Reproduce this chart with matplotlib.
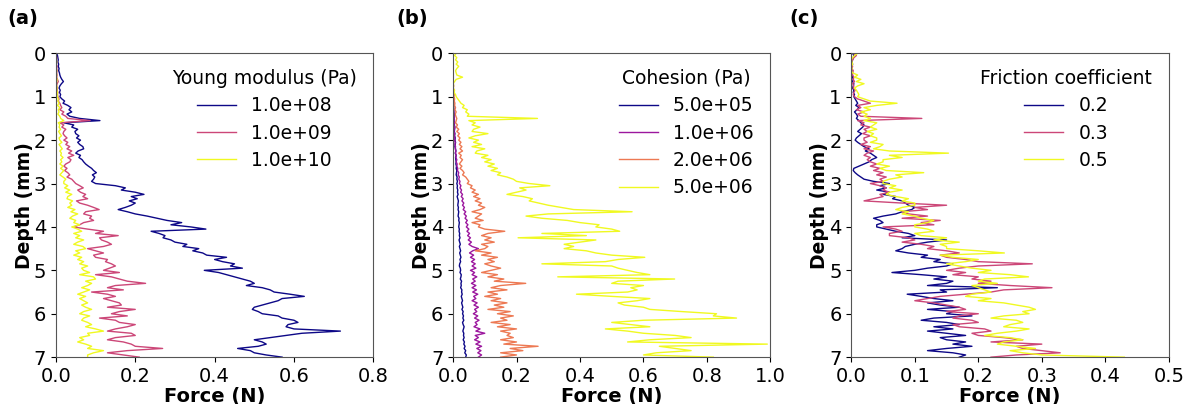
import numpy as np
import matplotlib
matplotlib.use("Agg")
import matplotlib.pyplot as plt

# depth grid (mm), 0.05 mm step
depth = np.linspace(0, 7, 141)

# (a) Young modulus
young_labels = ["1.0e+08", "1.0e+09", "1.0e+10"]
young_1e8 = [
    0.002, 0.004, 0.005, 0.006, 0.005, 0.007, 0.006, 0.008, 0.007, 0.009,
    0.010, 0.012, 0.015, 0.019, 0.014, 0.010, 0.008, 0.011, 0.009, 0.012,
    0.010, 0.015, 0.022, 0.018, 0.030, 0.038, 0.033, 0.040, 0.028, 0.035,
    0.060, 0.111, 0.020, 0.045, 0.040, 0.055, 0.048, 0.050, 0.058, 0.052,
    0.062, 0.055, 0.060, 0.068, 0.070, 0.056, 0.050, 0.062, 0.058, 0.066,
    0.070, 0.075, 0.082, 0.090, 0.095, 0.102, 0.092, 0.098, 0.095, 0.090,
    0.100, 0.150, 0.175, 0.165, 0.200, 0.222, 0.190, 0.205, 0.185, 0.200,
    0.190, 0.175, 0.157, 0.180, 0.200, 0.230, 0.255, 0.280, 0.317, 0.290,
    0.340, 0.378, 0.240, 0.260, 0.275, 0.270, 0.290, 0.300, 0.330, 0.320,
    0.360, 0.345, 0.370, 0.380, 0.430, 0.400, 0.420, 0.450, 0.440, 0.470,
    0.374, 0.410, 0.430, 0.450, 0.470, 0.490, 0.500, 0.480, 0.520, 0.540,
    0.550, 0.590, 0.626, 0.570, 0.560, 0.540, 0.520, 0.500, 0.495, 0.510,
    0.520, 0.560, 0.570, 0.600, 0.610, 0.585, 0.580, 0.600, 0.717, 0.620,
    0.580, 0.540, 0.500, 0.520, 0.530, 0.510, 0.458, 0.490, 0.500, 0.530,
    0.570,
]
young_1e9 = [
    0.000, 0.001, 0.002, 0.001, 0.002, 0.001, 0.003, 0.002, 0.003, 0.002,
    0.003, 0.002, 0.004, 0.006, 0.003, 0.002, 0.004, 0.003, 0.005, 0.004,
    0.005, 0.008, 0.006, 0.010, 0.012, 0.015, 0.010, 0.020, 0.015, 0.025,
    0.030, 0.086, 0.010, 0.020, 0.015, 0.025, 0.020, 0.018, 0.022, 0.028,
    0.020, 0.030, 0.025, 0.035, 0.028, 0.040, 0.032, 0.045, 0.030, 0.038,
    0.035, 0.025, 0.020, 0.028, 0.022, 0.030, 0.035, 0.028, 0.040, 0.045,
    0.050, 0.060, 0.069, 0.055, 0.062, 0.075, 0.068, 0.080, 0.052, 0.060,
    0.080, 0.095, 0.109, 0.075, 0.070, 0.090, 0.085, 0.095, 0.070, 0.060,
    0.044, 0.080, 0.120, 0.100, 0.157, 0.110, 0.115, 0.130, 0.140, 0.120,
    0.080, 0.100, 0.120, 0.095, 0.100, 0.130, 0.125, 0.140, 0.150, 0.135,
    0.120, 0.160, 0.100, 0.140, 0.160, 0.180, 0.226, 0.150, 0.130, 0.170,
    0.090, 0.130, 0.150, 0.120, 0.140, 0.160, 0.165, 0.130, 0.200, 0.160,
    0.140, 0.180, 0.110, 0.150, 0.160, 0.200, 0.180, 0.150, 0.130, 0.190,
    0.200, 0.150, 0.130, 0.170, 0.190, 0.200, 0.269, 0.180, 0.130, 0.170,
    0.210,
]
young_1e10 = [
    0.000, 0.001, 0.000, 0.001, 0.002, 0.001, 0.000, 0.001, 0.002, 0.001,
    0.002, 0.001, 0.003, 0.002, 0.001, 0.002, 0.003, 0.002, 0.004, 0.003,
    0.004, 0.006, 0.005, 0.008, 0.004, 0.010, 0.006, 0.008, 0.005, 0.010,
    0.012, 0.020, 0.006, 0.010, 0.008, 0.012, 0.007, 0.010, 0.014, 0.008,
    0.010, 0.015, 0.008, 0.012, 0.016, 0.010, 0.014, 0.012, 0.018, 0.012,
    0.015, 0.010, 0.018, 0.012, 0.020, 0.015, 0.010, 0.018, 0.025, 0.020,
    0.020, 0.030, 0.022, 0.035, 0.025, 0.040, 0.030, 0.028, 0.042, 0.035,
    0.040, 0.030, 0.048, 0.038, 0.055, 0.042, 0.035, 0.050, 0.045, 0.060,
    0.040, 0.055, 0.065, 0.045, 0.060, 0.050, 0.070, 0.055, 0.045, 0.068,
    0.075, 0.050, 0.060, 0.045, 0.065, 0.055, 0.070, 0.060, 0.080, 0.065,
    0.070, 0.085, 0.060, 0.095, 0.100, 0.075, 0.090, 0.080, 0.065, 0.085,
    0.070, 0.055, 0.075, 0.060, 0.070, 0.080, 0.065, 0.075, 0.090, 0.070,
    0.060, 0.085, 0.070, 0.065, 0.080, 0.090, 0.075, 0.100, 0.120, 0.080,
    0.085, 0.060, 0.070, 0.055, 0.075, 0.090, 0.080, 0.120, 0.095, 0.080,
    0.080,
]

# (b) Cohesion
cohesion_labels = ["5.0e+05", "1.0e+06", "2.0e+06", "5.0e+06"]
coh_5e5 = [
    0.000, 0.000, 0.000, 0.000, 0.000, 0.000, 0.000, 0.000, 0.000, 0.000,
    0.000, 0.000, 0.000, 0.000, 0.000, 0.000, 0.000, 0.000, 0.000, 0.000,
    0.001, 0.002, 0.001, 0.002, 0.003, 0.002, 0.003, 0.002, 0.004, 0.003,
    0.004, 0.003, 0.005, 0.004, 0.006, 0.005, 0.004, 0.006, 0.005, 0.007,
    0.006, 0.008, 0.007, 0.006, 0.008, 0.009, 0.007, 0.010, 0.008, 0.009,
    0.010, 0.009, 0.011, 0.010, 0.012, 0.011, 0.010, 0.013, 0.012, 0.014,
    0.012, 0.014, 0.013, 0.015, 0.014, 0.016, 0.013, 0.015, 0.017, 0.016,
    0.015, 0.017, 0.016, 0.018, 0.017, 0.016, 0.019, 0.018, 0.020, 0.019,
    0.018, 0.020, 0.019, 0.021, 0.020, 0.022, 0.019, 0.021, 0.023, 0.020,
    0.022, 0.024, 0.021, 0.023, 0.025, 0.022, 0.024, 0.021, 0.020, 0.023,
    0.024, 0.022, 0.026, 0.025, 0.023, 0.027, 0.025, 0.026, 0.024, 0.028,
    0.027, 0.029, 0.026, 0.028, 0.030, 0.027, 0.029, 0.031, 0.028, 0.032,
    0.030, 0.033, 0.031, 0.034, 0.030, 0.032, 0.035, 0.033, 0.031, 0.034,
    0.033, 0.035, 0.032, 0.036, 0.034, 0.038, 0.035, 0.040, 0.037, 0.042,
    0.040,
]
coh_1e6 = [
    0.000, 0.000, 0.000, 0.000, 0.000, 0.000, 0.000, 0.000, 0.000, 0.000,
    0.000, 0.000, 0.000, 0.000, 0.000, 0.000, 0.000, 0.000, 0.000, 0.000,
    0.000, 0.001, 0.002, 0.001, 0.002, 0.001, 0.002, 0.003, 0.002, 0.003,
    0.004, 0.003, 0.004, 0.003, 0.005, 0.004, 0.003, 0.005, 0.004, 0.006,
    0.005, 0.007, 0.006, 0.008, 0.007, 0.009, 0.008, 0.010, 0.009, 0.012,
    0.010, 0.013, 0.012, 0.015, 0.014, 0.018, 0.016, 0.020, 0.018, 0.022,
    0.020, 0.025, 0.022, 0.027, 0.024, 0.030, 0.026, 0.032, 0.028, 0.034,
    0.030, 0.036, 0.032, 0.040, 0.035, 0.042, 0.038, 0.045, 0.040, 0.047,
    0.042, 0.050, 0.044, 0.052, 0.046, 0.055, 0.048, 0.058, 0.050, 0.060,
    0.080, 0.062, 0.052, 0.065, 0.055, 0.068, 0.058, 0.070, 0.060, 0.072,
    0.055, 0.068, 0.060, 0.075, 0.062, 0.070, 0.058, 0.072, 0.060, 0.074,
    0.062, 0.078, 0.065, 0.072, 0.060, 0.076, 0.066, 0.080, 0.068, 0.075,
    0.064, 0.078, 0.068, 0.082, 0.070, 0.076, 0.066, 0.085, 0.072, 0.100,
    0.070, 0.080, 0.068, 0.085, 0.072, 0.090, 0.075, 0.088, 0.078, 0.090,
    0.080,
]
coh_2e6 = [
    0.000, 0.000, 0.000, 0.000, 0.000, 0.000, 0.000, 0.000, 0.000, 0.000,
    0.000, 0.000, 0.000, 0.000, 0.001, 0.002, 0.001, 0.003, 0.002, 0.004,
    0.003, 0.005, 0.004, 0.006, 0.005, 0.008, 0.006, 0.010, 0.007, 0.009,
    0.012, 0.010, 0.008, 0.014, 0.010, 0.018, 0.012, 0.020, 0.015, 0.022,
    0.018, 0.025, 0.020, 0.028, 0.022, 0.030, 0.018, 0.026, 0.022, 0.030,
    0.025, 0.020, 0.028, 0.022, 0.030, 0.035, 0.030, 0.040, 0.045, 0.050,
    0.045, 0.060, 0.055, 0.070, 0.060, 0.080, 0.065, 0.085, 0.070, 0.090,
    0.080, 0.100, 0.085, 0.060, 0.090, 0.080, 0.070, 0.095, 0.060, 0.085,
    0.080, 0.100, 0.163, 0.110, 0.090, 0.120, 0.100, 0.130, 0.090, 0.110,
    0.100, 0.070, 0.120, 0.090, 0.140, 0.110, 0.130, 0.100, 0.120, 0.150,
    0.120, 0.090, 0.140, 0.110, 0.160, 0.130, 0.229, 0.150, 0.120, 0.170,
    0.110, 0.140, 0.100, 0.150, 0.120, 0.170, 0.130, 0.160, 0.110, 0.180,
    0.140, 0.190, 0.150, 0.170, 0.120, 0.180, 0.140, 0.200, 0.150, 0.180,
    0.170, 0.190, 0.150, 0.200, 0.160, 0.268, 0.180, 0.220, 0.150, 0.200,
    0.150,
]
coh_5e6 = [
    0.010, 0.005, 0.012, 0.008, 0.015, 0.010, 0.018, 0.012, 0.008, 0.010,
    0.012, 0.030, 0.010, 0.005, 0.000, 0.002, 0.000, 0.005, 0.003, 0.008,
    0.010, 0.015, 0.020, 0.025, 0.035, 0.030, 0.045, 0.040, 0.050, 0.045,
    0.266, 0.050, 0.070, 0.060, 0.085, 0.065, 0.060, 0.110, 0.070, 0.050,
    0.080, 0.065, 0.090, 0.060, 0.100, 0.075, 0.070, 0.110, 0.090, 0.120,
    0.100, 0.130, 0.110, 0.140, 0.120, 0.150, 0.140, 0.170, 0.190, 0.200,
    0.240, 0.305, 0.210, 0.230, 0.200, 0.170, 0.220, 0.250, 0.240, 0.270,
    0.300, 0.340, 0.380, 0.564, 0.300, 0.230, 0.280, 0.360, 0.400, 0.460,
    0.450, 0.500, 0.525, 0.280, 0.420, 0.205, 0.450, 0.400, 0.350, 0.380,
    0.350, 0.420, 0.450, 0.500, 0.604, 0.520, 0.480, 0.280, 0.500, 0.520,
    0.550, 0.580, 0.620, 0.330, 0.698, 0.520, 0.500, 0.600, 0.560, 0.580,
    0.550, 0.389, 0.500, 0.620, 0.580, 0.520, 0.540, 0.600, 0.620, 0.720,
    0.830, 0.820, 0.893, 0.600, 0.500, 0.560, 0.620, 0.480, 0.550, 0.600,
    0.700, 0.750, 0.620, 0.550, 0.990, 0.650, 0.700, 0.750, 0.640, 0.600,
    0.820,
]

# (c) Friction coefficient
friction_labels = ["0.2", "0.3", "0.5"]
fric_02 = [
    0.002, 0.004, 0.003, 0.002, 0.001, 0.002, 0.001, 0.000, 0.001, 0.002,
    0.001, 0.002, 0.003, 0.002, 0.004, 0.003, 0.002, 0.004, 0.003, 0.005,
    0.004, 0.006, 0.008, 0.010, 0.007, 0.012, 0.009, 0.005, 0.008, 0.010,
    0.008, 0.012, 0.015, 0.020, 0.018, 0.014, 0.010, 0.016, 0.012, 0.008,
    0.006, 0.010, 0.015, 0.020, 0.028, 0.022, 0.030, 0.035, 0.040, 0.032,
    0.028, 0.020, 0.012, 0.004, 0.003, 0.006, 0.010, 0.015, 0.020, 0.035,
    0.060, 0.045, 0.055, 0.040, 0.060, 0.050, 0.070, 0.065, 0.080, 0.085,
    0.090, 0.100, 0.095, 0.080, 0.070, 0.050, 0.035, 0.045, 0.050, 0.040,
    0.040, 0.055, 0.070, 0.090, 0.100, 0.080, 0.150, 0.120, 0.100, 0.085,
    0.080, 0.070, 0.090, 0.120, 0.110, 0.140, 0.130, 0.160, 0.150, 0.120,
    0.100, 0.064, 0.110, 0.150, 0.130, 0.160, 0.150, 0.120, 0.230, 0.140,
    0.150, 0.088, 0.110, 0.130, 0.160, 0.120, 0.140, 0.170, 0.120, 0.160,
    0.150, 0.190, 0.130, 0.110, 0.150, 0.170, 0.130, 0.160, 0.120, 0.150,
    0.180, 0.140, 0.150, 0.180, 0.160, 0.190, 0.150, 0.120, 0.160, 0.180,
    0.170,
]
fric_03 = [
    0.003, 0.008, 0.004, 0.002, 0.000, 0.001, 0.002, 0.001, 0.003, 0.002,
    0.002, 0.004, 0.003, 0.005, 0.002, 0.004, 0.003, 0.006, 0.004, 0.003,
    0.005, 0.010, 0.020, 0.030, 0.010, 0.015, 0.008, 0.020, 0.010, 0.015,
    0.111, 0.010, 0.020, 0.015, 0.030, 0.020, 0.025, 0.018, 0.030, 0.020,
    0.020, 0.025, 0.015, 0.030, 0.020, 0.035, 0.025, 0.020, 0.030, 0.025,
    0.030, 0.040, 0.030, 0.045, 0.035, 0.050, 0.040, 0.055, 0.045, 0.050,
    0.030, 0.045, 0.055, 0.050, 0.060, 0.045, 0.050, 0.035, 0.020, 0.080,
    0.150, 0.100, 0.120, 0.080, 0.090, 0.120, 0.080, 0.140, 0.110, 0.130,
    0.050, 0.070, 0.080, 0.060, 0.060, 0.090, 0.100, 0.080, 0.110, 0.130,
    0.120, 0.150, 0.170, 0.140, 0.150, 0.180, 0.200, 0.285, 0.200, 0.170,
    0.150, 0.180, 0.160, 0.200, 0.190, 0.220, 0.200, 0.250, 0.316, 0.240,
    0.220, 0.180, 0.140, 0.120, 0.100, 0.130, 0.150, 0.170, 0.180, 0.150,
    0.200, 0.170, 0.160, 0.190, 0.200, 0.160, 0.170, 0.210, 0.220, 0.190,
    0.200, 0.240, 0.270, 0.220, 0.300, 0.260, 0.270, 0.300, 0.329, 0.260,
    0.220,
]
fric_05 = [
    0.010, 0.005, 0.002, 0.000, 0.001, 0.002, 0.000, 0.001, 0.000, 0.002,
    0.010, 0.005, 0.015, 0.008, 0.020, 0.010, 0.005, 0.008, 0.010, 0.012,
    0.010, 0.020, 0.030, 0.072, 0.040, 0.020, 0.030, 0.015, 0.025, 0.020,
    0.030, 0.020, 0.040, 0.035, 0.030, 0.040, 0.025, 0.035, 0.030, 0.040,
    0.040, 0.030, 0.050, 0.045, 0.035, 0.060, 0.153, 0.060, 0.080, 0.050,
    0.050, 0.040, 0.060, 0.045, 0.055, 0.114, 0.070, 0.080, 0.060, 0.050,
    0.050, 0.070, 0.060, 0.080, 0.060, 0.055, 0.070, 0.090, 0.080, 0.100,
    0.100, 0.080, 0.070, 0.090, 0.080, 0.100, 0.110, 0.130, 0.120, 0.100,
    0.100, 0.120, 0.130, 0.100, 0.110, 0.150, 0.130, 0.170, 0.140, 0.150,
    0.150, 0.200, 0.241, 0.140, 0.160, 0.200, 0.180, 0.150, 0.170, 0.190,
    0.220, 0.200, 0.250, 0.279, 0.210, 0.200, 0.230, 0.190, 0.200, 0.210,
    0.220, 0.190, 0.180, 0.220, 0.200, 0.240, 0.260, 0.280, 0.290, 0.270,
    0.280, 0.240, 0.220, 0.260, 0.270, 0.250, 0.240, 0.280, 0.260, 0.230,
    0.210, 0.250, 0.270, 0.240, 0.230, 0.260, 0.290, 0.250, 0.270, 0.300,
    0.430,
]

panels = [
    ("(a)", "Young modulus (Pa)", young_labels,
     [young_1e8, young_1e9, young_1e10], 0.8, [0.0, 0.2, 0.4, 0.6, 0.8]),
    ("(b)", "Cohesion (Pa)", cohesion_labels,
     [coh_5e5, coh_1e6, coh_2e6, coh_5e6], 1.0, [0.0, 0.2, 0.4, 0.6, 0.8, 1.0]),
    ("(c)", "Friction coefficient", friction_labels,
     [fric_02, fric_03, fric_05], 0.5, [0.0, 0.1, 0.2, 0.3, 0.4, 0.5]),
]

fig = plt.figure(figsize=(11.89, 4.04), dpi=100)
lefts = [0.047, 0.381, 0.716]
tag_x = [0.006, 0.333, 0.664]

for (tag, title, labels, series, xmax, xticks), left, tx in zip(panels, lefts, tag_x):
    ax = fig.add_axes([left, 0.116, 0.267, 0.752])
    colors = plt.cm.plasma(np.linspace(0, 1, len(series)))
    for vals, lab, col in zip(series, labels, colors):
        ax.plot(vals, depth, color=col, lw=1.0, label=lab)
    ax.set_xlim(0, xmax)
    ax.set_ylim(7, 0)
    ax.set_xticks(xticks)
    ax.set_xticklabels([f"{t:.1f}" for t in xticks])
    ax.set_yticks(range(8))
    ax.tick_params(labelsize=14)
    ax.set_xlabel("Force (N)", fontsize=14, fontweight="bold", labelpad=1)
    ax.set_ylabel("Depth (mm)", fontsize=13.5, fontweight="bold", labelpad=0)
    for sp in ax.spines.values():
        sp.set_color("#555555")
    ax.legend(title=title, loc="upper right", frameon=False,
              fontsize=13.5, title_fontsize=13.5, handlelength=2.1,
              labelspacing=0.45, bbox_to_anchor=(1.0, 1.005))
    fig.text(tx, 0.94, tag, fontsize=14, fontweight="bold")

fig.savefig("out.png", dpi=100)
